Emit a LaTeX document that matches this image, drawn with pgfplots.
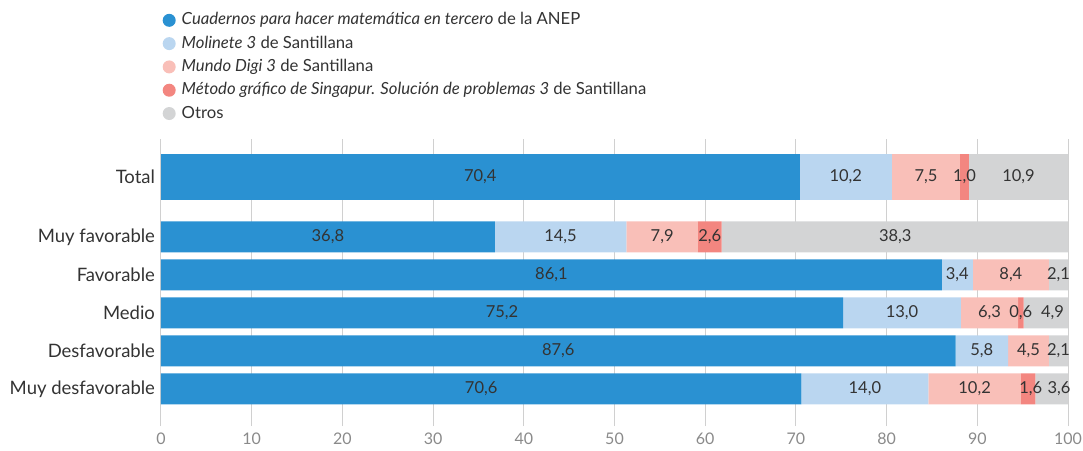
\documentclass[border=0pt]{standalone}
\usepackage{pgfplots}
\pgfplotsset{compat=1.18}
\usepackage{fontspec}
\setmainfont{Lato}
\definecolor{cBlue}{HTML}{2A91D2}
\definecolor{cLBlue}{HTML}{BAD6F0}
\definecolor{cPink}{HTML}{F9BFB8}
\definecolor{cRed}{HTML}{F38680}
\definecolor{cGray}{HTML}{D3D4D5}
\definecolor{cGrid}{HTML}{D0D0D0}
\definecolor{cText}{HTML}{333333}
\definecolor{cTick}{HTML}{8A8A8A}

\pgfplotstableread{
y     a     b     c    d    e
0     70.6  14.0  10.2 1.6  3.6
1     87.6  5.8   4.5  0.0  2.1
2     75.2  13.0  6.3  0.6  4.9
3     86.1  3.4   8.4  0.0  2.1
4     36.8  14.5  7.9  2.6  38.3
}\groups
\pgfplotstableread{
y      a     b     c    d    e
5.579  70.4  10.2  7.5  1.0  10.9
}\total
\pgfplotstableread{
x      y      l
35.2   5.579  70,4
75.5   5.579  10,2
84.35  5.579  7,5
88.6   5.579  1,0
94.55  5.579  10,9
18.4   4      36,8
44.05  4      14,5
55.25  4      7,9
60.5   4      2,6
80.95  4      38,3
43.05  3      86,1
87.8   3      3,4
93.7   3      8,4
98.95  3      2,1
37.6   2      75,2
81.7   2      13,0
91.35  2      6,3
94.8   2      0,6
98.3   2      4,9
43.8   1      87,6
90.5   1      5,8
95.65  1      4,5
98.95  1      2,1
35.3   0      70,6
77.6   0      14,0
89.7   0      10,2
95.9   0      1,6
99.0   0      3,6
}\labels

\pgfplotsset{
  common/.style={
    width=907pt, height=287pt, scale only axis,
    at={(0pt,0pt)}, anchor=south west,
    xmin=0, xmax=100, ymin=-0.974, ymax=6.579,
    axis line style={draw=none}, tick style={draw=none},
    major tick length=0pt,
    font=\fontsize{18.5pt}{21pt}\selectfont,
    /pgf/number format/assume math mode=true,
  }
}

\begin{document}
\begin{tikzpicture}
\useasboundingbox (-161pt,-24pt) rectangle (922pt,426pt);
% main groups
\begin{axis}[common,
  xbar stacked, bar width=31pt,
  xtick={0,10,...,100},
  xticklabel style={text=cTick, font=\fontsize{16pt}{19pt}\selectfont, yshift=-3pt},
  xmajorgrids, grid style={cGrid, line width=1pt},
  ytick={0,1,2,3,4},
  yticklabels={Muy desfavorable, Desfavorable, Medio, Favorable, Muy favorable},
  yticklabel style={text=cText, xshift=-2.5pt},
  legend style={at={(0,1.449)}, anchor=north west, draw=none, fill=none,
    inner sep=0pt, row sep=6.3pt, column sep=6pt,
    nodes={inner sep=0pt, text height=13pt, text depth=4pt, text=cText},
    font=\fontsize{16.7pt}{20pt}\selectfont,
    cells={anchor=west}, xshift=1.5pt, yshift=-1.5pt},
  legend cell align=left,
  legend image code/.code={\fill[#1] (6.5pt,0pt) circle (6.5pt);},
]
\addplot[draw=none, fill=cBlue] table[x=a, y=y] {\groups};
\addlegendentry{\textit{Cuadernos para hacer matemática en tercero} de la ANEP}
\addplot[draw=none, fill=cLBlue] table[x=b, y=y] {\groups};
\addlegendentry{\textit{Molinete 3} de Santillana}
\addplot[draw=none, fill=cPink] table[x=c, y=y] {\groups};
\addlegendentry{\textit{Mundo Digi 3} de Santillana}
\addplot[draw=none, fill=cRed] table[x=d, y=y] {\groups};
\addlegendentry{\textit{Método gráfico de Singapur. Solución de problemas 3} de Santillana}
\addplot[draw=none, fill=cGray] table[x=e, y=y] {\groups};
\addlegendentry{Otros}
\end{axis}
% total bar
\begin{axis}[common,
  xbar stacked, bar width=46pt,
  xtick=\empty,
  ytick={5.579}, yticklabels={Total},
  yticklabel style={text=cText, xshift=-2.5pt},
]
\addplot[draw=none, fill=cBlue] table[x=a, y=y] {\total};
\addplot[draw=none, fill=cLBlue] table[x=b, y=y] {\total};
\addplot[draw=none, fill=cPink] table[x=c, y=y] {\total};
\addplot[draw=none, fill=cRed] table[x=d, y=y] {\total};
\addplot[draw=none, fill=cGray] table[x=e, y=y] {\total};
\end{axis}
% value labels
\begin{axis}[common, hide axis]
\addplot[draw=none, mark=none, nodes near coords, point meta=explicit symbolic,
  nodes near coords align={center},
  every node near coord/.append style={text=cText, font=\fontsize{16.5pt}{19pt}\selectfont}]
  table[x=x, y=y, meta=l] {\labels};
\end{axis}
\end{tikzpicture}
\end{document}
